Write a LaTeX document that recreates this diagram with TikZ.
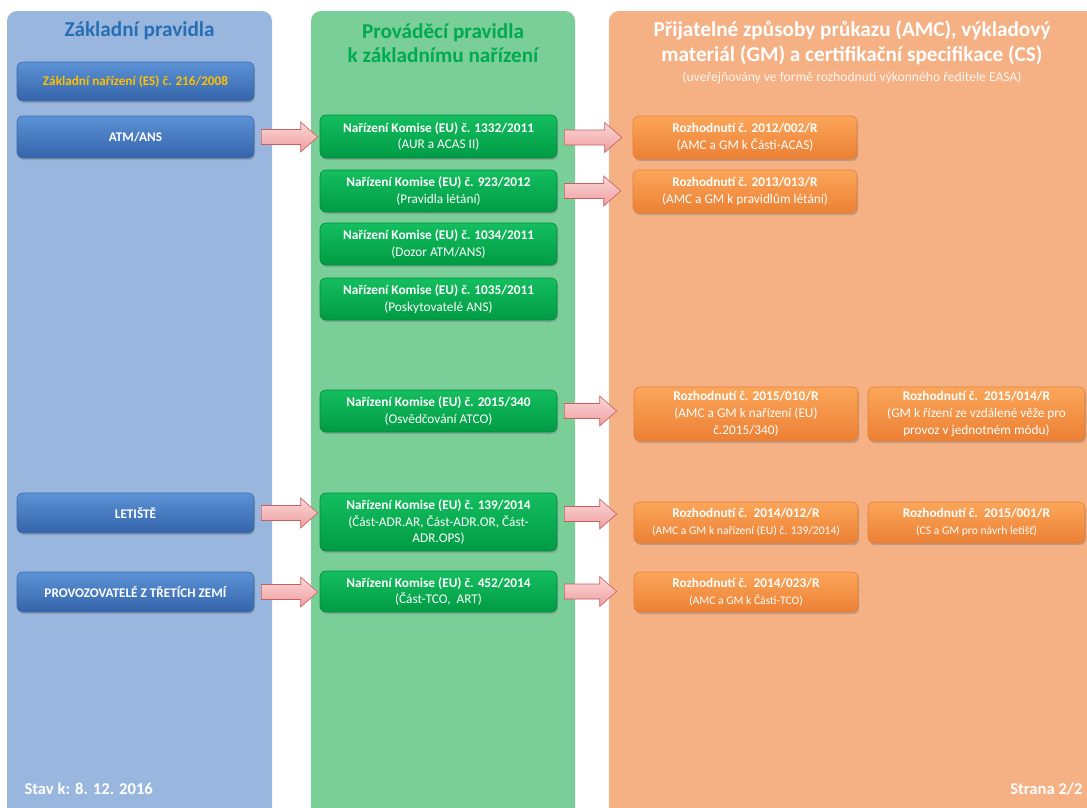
\documentclass[tikz,border=0pt]{standalone}
\usepackage{fontspec}
\setmainfont{Carlito}
\usetikzlibrary{shadows,calc}
\definecolor{colblue}{RGB}{152,182,222}
\definecolor{colgreen}{RGB}{122,206,152}
\definecolor{colorange}{RGB}{245,176,132}
\definecolor{titleblue}{RGB}{40,110,180}
\definecolor{titlegreen}{RGB}{0,170,80}
\definecolor{bboxT}{RGB}{92,146,214}
\definecolor{bboxB}{RGB}{52,100,170}
\definecolor{bboxD}{RGB}{60,105,175}
\definecolor{gboxT}{RGB}{20,190,95}
\definecolor{gboxB}{RGB}{0,155,68}
\definecolor{gboxD}{RGB}{0,140,60}
\definecolor{oboxT}{RGB}{251,166,90}
\definecolor{oboxB}{RGB}{236,128,52}
\definecolor{oboxD}{RGB}{228,128,60}
\definecolor{arrT}{RGB}{252,214,214}
\definecolor{arrB}{RGB}{238,158,160}
\definecolor{arrD}{RGB}{200,95,95}
\definecolor{zntext}{RGB}{255,192,0}
\tikzset{
  column/.style={rounded corners=10pt},
  basebox/.style={rounded corners=6pt, line width=0.6pt, align=center, text=white,
    inner sep=2pt, drop shadow={opacity=0.45, shadow xshift=1pt, shadow yshift=-2pt},
    font=\fontsize{13.3}{16.8}\selectfont},
  bluebox/.style={basebox, top color=bboxT, bottom color=bboxB, draw=bboxD,
    minimum width=237pt, font=\bfseries\fontsize{13.2}{16}\selectfont},
  greenbox/.style={basebox, top color=gboxT, bottom color=gboxB, draw=gboxD, minimum width=237pt},
  orangebox/.style={basebox, top color=oboxT, bottom color=oboxB, draw=oboxD},
  orange1/.style={orangebox, minimum width=224pt},
  orange2/.style={orangebox, minimum width=217pt},
  blockarr/.style={top color=arrT, bottom color=arrB, draw=arrD, line width=0.6pt, line join=miter},
  coltitle/.style={font=\bfseries\fontsize{21.2}{24.5}\selectfont, align=center},
  footer/.style={font=\bfseries\fontsize{16.6}{18}\selectfont, text=white},
}
% block arrow: from node, to node, end gap, y shift
\newcommand\barrow[4]{%
  \path let \p1=($(#1.east)+(7,#4)$), \p2=($(#2.west)+(-#3,0)$) in
   [blockarr] (\x1,\y1+7.5pt) -- (\x2-17pt,\y1+7.5pt) -- (\x2-17pt,\y1+15pt) -- (\x2,\y1)
   -- (\x2-17pt,\y1-15pt) -- (\x2-17pt,\y1-7.5pt) -- (\x1,\y1-7.5pt) -- cycle;}
\newcommand\sm[1]{{\fontsize{11.6}{14}\selectfont #1}}
\begin{document}
\begin{tikzpicture}[x=1pt,y=-1pt]
\useasboundingbox (0,0) rectangle (1087,807);
\clip (0,0) rectangle (1087,807);
\fill[white] (0,0) rectangle (1087,807);
% columns
\fill[column, colblue] (7,11) rectangle (272,840);
\fill[column, colgreen] (311,11) rectangle (575,840);
\fill[column, colorange] (609,11) rectangle (1110,840);
% titles
\node[coltitle, text=titleblue] (t1) at (139.5,31) {Základní pravidla};
\node[coltitle, text=titlegreen] (t2) at (443,43) {Prováděcí pravidla\\k základnímu nařízení};
\node[coltitle, text=white] (t3) at (852,43) {Přijatelné způsoby průkazu (AMC), výkladový\\materiál (GM) a certifikační specifikace (CS)};
\node[font=\fontsize{13.6}{16}\selectfont, text=white!94!orange] (t3s) at (852,77.5) {(uveřejňovány ve formě rozhodnutí výkonného ředitele EASA)};
% blue boxes
\node[bluebox, minimum height=39pt, text=zntext] (zn) at (135.5,81.5) {Základní nařízení (ES) č. 216/2008};
\node[bluebox, minimum height=42pt] (atm) at (135.5,137) {ATM/ANS};
\node[bluebox, minimum height=40pt] (let) at (135.5,513) {LETIŠTĚ};
\node[bluebox, minimum height=40pt] (prov) at (135.5,592) {PROVOZOVATELÉ Z TŘETÍCH ZEMÍ};
% green boxes
\node[greenbox, minimum height=43pt] (g1) at (438.5,136.5) {\textbf{Nařízení Komise (EU) č. 1332/2011}\\(AUR a ACAS II)};
\node[greenbox, minimum height=42pt] (g2) at (438.5,191) {\textbf{Nařízení Komise (EU) č. 923/2012}\\(Pravidla létání)};
\node[greenbox, minimum height=42pt] (g3) at (438.5,244) {\textbf{Nařízení Komise (EU) č. 1034/2011}\\(Dozor ATM/ANS)};
\node[greenbox, minimum height=42pt] (g4) at (438.5,299) {\textbf{Nařízení Komise (EU) č. 1035/2011}\\(Poskytovatelé ANS)};
\node[greenbox, minimum height=42pt] (g5) at (438.5,411) {\textbf{Nařízení Komise (EU) č. 2015/340}\\(Osvědčování ATCO)};
\node[greenbox, minimum height=58pt] (g6) at (438.5,522) {\textbf{Nařízení Komise (EU) č. 139/2014}\\(Část-ADR.AR, Část-ADR.OR, Část-\\ADR.OPS)};
\node[greenbox, minimum height=41pt] (g7) at (438.5,591.5) {\textbf{Nařízení Komise (EU) č. 452/2014}\\(Část-TCO,\ \ ART)};
% orange boxes
\node[orange1, minimum height=43pt] (o1) at (745,137.5) {\textbf{Rozhodnutí č. 2012/002/R}\\(AMC a GM k Části-ACAS)};
\node[orange1, minimum height=43pt] (o2) at (745,191.5) {\textbf{Rozhodnutí č. 2013/013/R}\\(AMC a GM k pravidlům létání)};
\node[orange1, minimum height=54pt] (o3) at (746,414) {\textbf{Rozhodnutí č. 2015/010/R}\\(AMC a GM k nařízení (EU)\\č.2015/340)};
\node[orange2, minimum height=54pt] (o4) at (976.5,414) {\textbf{Rozhodnutí č.\ \ 2015/014/R}\\(GM k řízení ze vzdálené věže pro\\provoz v jednotném módu)};
\node[orange1, minimum height=41pt] (o5) at (746,522.5) {\textbf{Rozhodnutí č.\ \ 2014/012/R}\\\sm{(AMC a GM k nařízení (EU) č. 139/2014)}};
\node[orange2, minimum height=41pt] (o6) at (976.5,522.5) {\textbf{Rozhodnutí č.\ \ 2015/001/R}\\\sm{(CS a GM pro návrh letišť)}};
\node[orange1, minimum height=40pt] (o7) at (746,592) {\textbf{Rozhodnutí č.\ \ 2014/023/R}\\\sm{(AMC a GM k Části-TCO)}};
% arrows
\barrow{atm}{g1}{2}{0}
\barrow{let}{g6}{2}{0}
\barrow{prov}{g7}{2}{0}
\barrow{g1}{o1}{11}{1}
\barrow{g2}{o2}{12}{0}
\barrow{g5}{o3}{17}{0}
\barrow{g6}{o5}{17}{-8}
\barrow{g7}{o7}{17}{0}
% footers
\node[footer, anchor=west] (stav) at (21,789) {Stav k: 8. 12. 2016};
\node[footer, anchor=east] (strana) at (1086,789) {Strana 2/2};
\end{tikzpicture}
\end{document}
